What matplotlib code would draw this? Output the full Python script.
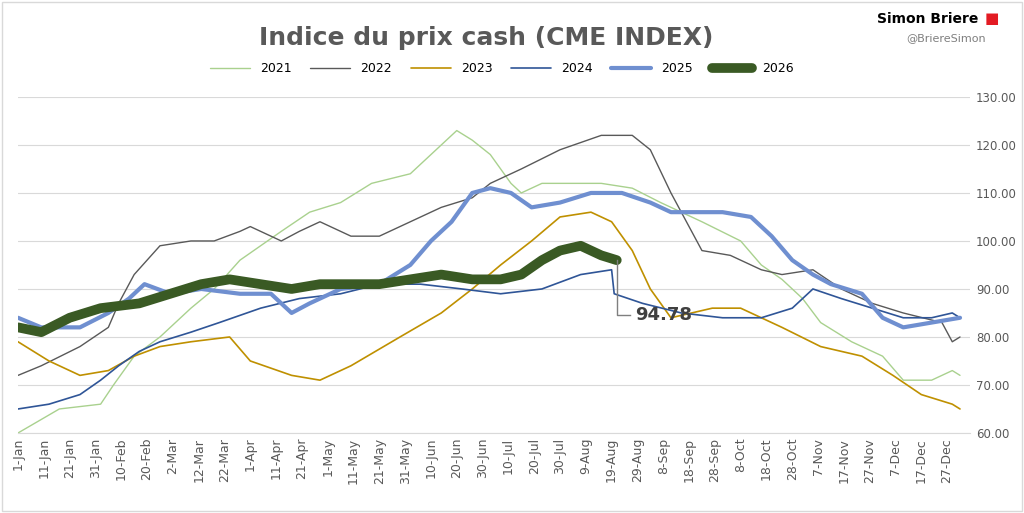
import matplotlib.pyplot as plt
import datetime as dt

years = ['2021', '2022', '2023', '2024', '2025', '2026']
colors = ['#a9d18e', '#595959', '#bf9000', '#2f5597', '#6f8fd0', '#3a5a24']
widths = [1.0, 1.0, 1.2, 1.2, 3.0, 7.0]

d2021 = [1, 17, 33, 38, 46, 56, 68, 77, 87, 103, 114, 126, 138, 153, 165, 171, 177, 184, 192, 196, 204, 227, 239, 250, 266, 281, 289, 297, 305, 312, 324, 336, 344, 355, 363, 366]
v2021 = [60, 65, 66, 70, 76, 80, 86, 90, 96, 102, 106, 108, 112, 114, 120, 123, 121, 118, 112, 110, 112, 112, 111, 108, 104, 100, 95, 92, 88, 83, 79, 76, 71, 71, 73, 72]
d2022 = [1, 10, 25, 36, 40, 46, 56, 68, 77, 87, 91, 103, 110, 118, 130, 141, 153, 165, 177, 184, 196, 211, 227, 239, 246, 254, 262, 266, 277, 289, 297, 309, 320, 332, 344, 359, 363, 366]
v2022 = [72, 74, 78, 82, 87, 93, 99, 100, 100, 102, 103, 100, 102, 104, 101, 101, 104, 107, 109, 112, 115, 119, 122, 122, 119, 110, 102, 98, 97, 94, 93, 94, 90, 87, 85, 83, 79, 80]
d2023 = [1, 13, 25, 36, 46, 56, 68, 83, 91, 107, 118, 130, 149, 165, 177, 188, 200, 211, 223, 231, 239, 246, 254, 270, 281, 297, 312, 328, 340, 351, 363, 366]
v2023 = [79, 75, 72, 73, 76, 78, 79, 80, 75, 72, 71, 74, 80, 85, 90, 95, 100, 105, 106, 104, 98, 90, 84, 86, 86, 82, 78, 76, 72, 68, 66, 65]
d2024 = [1, 13, 25, 33, 40, 48, 56, 68, 79, 95, 110, 126, 141, 157, 173, 188, 204, 219, 231, 232, 243, 258, 274, 289, 301, 309, 320, 332, 344, 355, 363, 366]
v2024 = [65, 66, 68, 71, 74, 77, 79, 81, 83, 86, 88, 89, 91, 91, 90, 89, 90, 93, 94, 89, 87, 85, 84, 84, 86, 90, 88, 86, 84, 84, 85, 84]
d2025 = [1, 10, 25, 36, 44, 50, 60, 72, 87, 99, 107, 114, 126, 141, 153, 161, 169, 177, 184, 192, 200, 211, 223, 235, 246, 254, 274, 285, 293, 301, 309, 316, 328, 336, 344, 355, 366]
v2025 = [84, 82, 82, 85, 88, 91, 89, 90, 89, 89, 85, 87, 90, 91, 95, 100, 104, 110, 111, 110, 107, 108, 110, 110, 108, 106, 106, 105, 101, 96, 93, 91, 89, 84, 82, 83, 84]
d2026 = [1, 10, 21, 33, 48, 60, 72, 83, 95, 107, 118, 130, 141, 165, 177, 188, 196, 204, 211, 219, 227, 233]
v2026 = [82, 81, 84, 86, 87, 89, 91, 92, 91, 90, 91, 91, 91, 93, 92, 92, 93, 96, 98, 99, 97, 96]
days = [d2021, d2022, d2023, d2024, d2025, d2026]
vals = [v2021, v2022, v2023, v2024, v2025, v2026]

tick_days = list(range(1, 366, 10))
tick_labels = [(dt.date(2023, 1, 1) + dt.timedelta(d - 1)).strftime('%-d-%b') for d in tick_days]

fig = plt.figure(figsize=(10.24, 5.13), dpi=100)
ax = fig.add_axes([0.0176, 0.156, 0.93, 0.655])
for y, d, v, c, w in zip(years, days, vals, colors, widths):
    ax.plot(d, v, color=c, lw=w, label=y, solid_capstyle='round')

ax.plot([233, 233, 238], [96, 84.5, 84.5], color='#7f7f7f', lw=1)
ax.text(240, 84.5, '94.78', fontsize=13, fontweight='bold', color='#404040', va='center')

ax.set_xlim(1, 370)
ax.set_ylim(60, 130)
ax.set_yticks(range(60, 131, 10))
ax.set_yticklabels([f'{t:.2f}' for t in range(60, 131, 10)], fontsize=8.5, color='#595959')
ax.yaxis.tick_right()
ax.tick_params(axis='y', length=0, pad=4)
ax.set_xticks(tick_days)
ax.set_xticklabels(tick_labels, rotation=90, fontsize=9, color='#595959')
ax.tick_params(axis='x', length=0)
ax.grid(axis='y', color='#d9d9d9', lw=0.8)
for s in ['top', 'right', 'left']:
    ax.spines[s].set_visible(False)
ax.spines['bottom'].set_color('#d9d9d9')

fig.text(0.475, 0.925, 'Indice du prix cash (CME INDEX)', ha='center', va='center',
         fontsize=18, fontweight='bold', color='#595959')
fig.legend(loc='center', bbox_to_anchor=(0.49, 0.866), ncol=6, frameon=False,
           fontsize=9, handlelength=3.2, columnspacing=1.5)
fig.text(0.955, 0.963, 'Simon Briere', ha='right', va='center', fontsize=10, fontweight='bold')
fig.text(0.962, 0.963, '\u25a0', ha='left', va='center', fontsize=11, color='#e31b23')
fig.text(0.885, 0.925, '@BriereSimon', ha='left', va='center', fontsize=8, color='#7f7f7f')
fig.patches.append(plt.Rectangle((0.002, 0.004), 0.996, 0.992, transform=fig.transFigure,
                                 fill=False, edgecolor='#d9d9d9', lw=1))
fig.savefig('out.png', dpi=100)
